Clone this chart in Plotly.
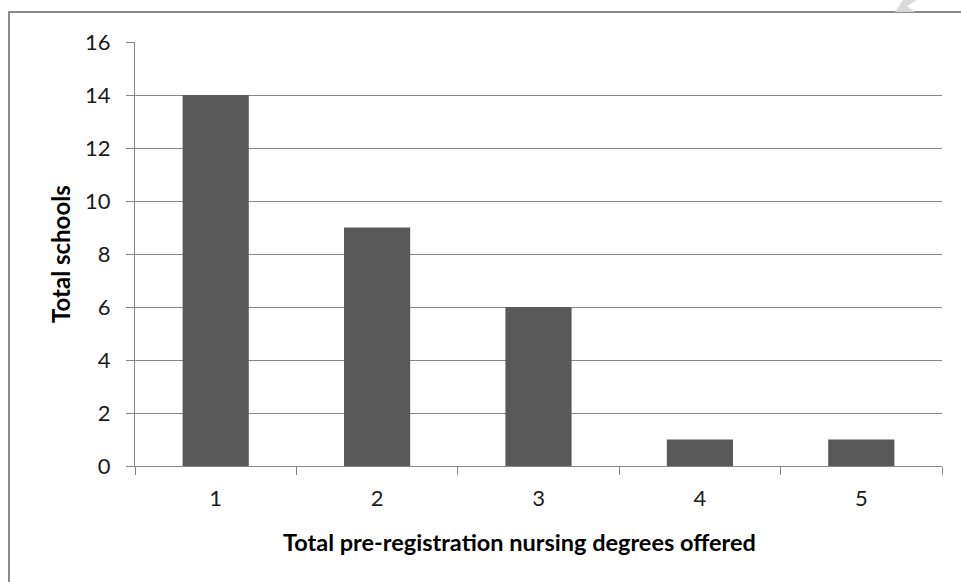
import plotly.graph_objects as go

# Number of pre-registration nursing degrees a school offers, and how many schools offer that many
degrees_offered = ["1", "2", "3", "4", "5"]
total_schools = [14, 9, 6, 1, 1]
y_ticks = [0, 2, 4, 6, 8, 10, 12, 14, 16]

W, H = 961, 582
L, R, T, B = 135, 942, 42, 466  # plot area edges in pixels


def px_x(p):
    return (p - L) / (R - L)


def px_y(p):
    return (B - p) / (B - T)


GRID = "#868686"
FONT = "Lato, 'Open Sans', sans-serif"

fig = go.Figure(
    go.Bar(
        x=degrees_offered,
        y=total_schools,
        width=0.41,
        marker=dict(color="#595959", line=dict(width=0)),
        hoverinfo="x+y",
    )
)

fig.update_layout(
    width=W,
    height=H,
    margin=dict(l=L, r=W - R, t=T, b=H - B, pad=0),
    paper_bgcolor="white",
    plot_bgcolor="white",
    showlegend=False,
    font=dict(family=FONT, size=22, color="#1a1a1a"),
    xaxis=dict(
        type="category",
        tickson="boundaries",
        ticks="outside",
        ticklen=8,
        tickcolor=GRID,
        showline=True,
        linecolor=GRID,
        linewidth=1,
        showgrid=False,
        zeroline=False,
        tickfont=dict(family=FONT, size=22, color="#1a1a1a"),
        ticklabelstandoff=13,
    ),
    yaxis=dict(
        range=[0, 16],
        tickvals=y_ticks,
        ticks="outside",
        ticklen=8,
        tickcolor=GRID,
        showline=True,
        linecolor=GRID,
        linewidth=1,
        showgrid=True,
        gridcolor=GRID,
        gridwidth=1,
        zeroline=False,
        tickfont=dict(family=FONT, size=22, color="#1a1a1a"),
        ticklabelstandoff=11,
    ),
    annotations=[
        dict(
            text="<b>Total pre-registration nursing degrees offered</b>",
            xref="paper", yref="paper",
            x=px_x(519.5), y=px_y(542),
            xanchor="center", yanchor="middle",
            showarrow=False,
            font=dict(family=FONT, size=23.5, color="black"),
        ),
        dict(
            text="<b>Total schools</b>",
            xref="paper", yref="paper",
            x=px_x(60), y=px_y(254),
            xanchor="center", yanchor="middle",
            textangle=-90,
            showarrow=False,
            font=dict(family=FONT, size=24, color="black"),
        ),
    ],
    shapes=[
        # outer chart frame
        dict(
            type="rect", xref="paper", yref="paper",
            x0=px_x(9), x1=px_x(975), y0=px_y(12), y1=px_y(600),
            line=dict(color="#8a8a8a", width=2),
            fillcolor="rgba(0,0,0,0)",
            layer="below",
        ),
        # light grey mark at the top edge
        dict(
            type="path", xref="paper", yref="paper",
            path=(
                f"M {px_x(903)} {px_y(0)} L {px_x(917)} {px_y(0)} "
                f"L {px_x(907)} {px_y(6)} L {px_x(915)} {px_y(12)} "
                f"L {px_x(895)} {px_y(12)} Z"
            ),
            line=dict(width=0),
            fillcolor="#d9d9d9",
            layer="below",
        ),
    ],
)

fig.write_html("out.html")
